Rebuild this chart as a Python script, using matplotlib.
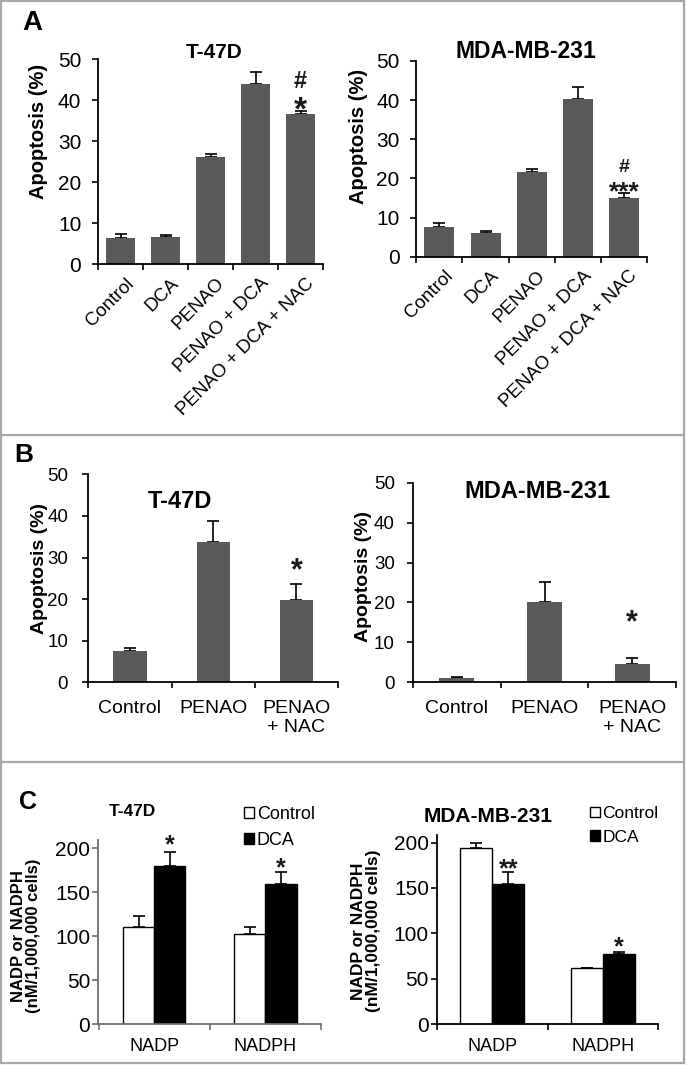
import matplotlib
matplotlib.use('Agg')
import matplotlib.pyplot as plt
import numpy as np
from matplotlib.lines import Line2D
import matplotlib.transforms as mtransforms

plt.rcParams['font.family'] = ['Liberation Sans', 'DejaVu Sans']

W, H = 686, 1065
fig = plt.figure(figsize=(W / 100, H / 100), dpi=100)


def fx(x):
    return x / W


def fy(y):
    return 1 - y / H


# ---------------- data ----------------
a_categories = ['Control', 'DCA', 'PENAO', 'PENAO + DCA', 'PENAO + DCA + NAC']
a_t47d_mean = [6.3, 6.6, 26.1, 44.0, 36.7]
a_t47d_err = [1.1, 0.6, 0.8, 2.9, 0.8]
a_mda_mean = [7.7, 6.0, 21.7, 40.4, 15.0]
a_mda_err = [1.0, 0.6, 0.6, 3.0, 1.2]

b_categories = ['Control', 'PENAO', 'PENAO\n+ NAC']
b_t47d_mean = [7.6, 33.8, 19.8]
b_t47d_err = [0.6, 5.0, 3.8]
b_mda_mean = [1.0, 20.2, 4.5]
b_mda_err = [0.25, 5.0, 1.7]

c_groups = ['NADP', 'NADPH']
c_series = ['Control', 'DCA']
c_t47d_control = [110.4, 102.5]
c_t47d_control_err = [12.6, 8.3]
c_t47d_dca = [180.3, 159.8]
c_t47d_dca_err = [15.5, 13.6]
c_mda_control = [193.8, 61.4]
c_mda_control_err = [5.5, 0.0]
c_mda_dca = [154.4, 77.2]
c_mda_dca_err = [13.6, 1.8]

# significance marks: (x position, y centre, text)
a_t47d_marks = [(4, 45.0, '#'), (4, 40.1, '*')]
a_mda_marks = [(4, 23.4, '#'), (4, 18.6, '***')]
b_t47d_marks = [(2, 29.0, '*')]
b_mda_marks = [(2, 17.3, '*')]
c_t47d_marks = [(0.14, 211.4, '*'), (1.14, 185.9, '*')]
c_mda_marks = [(0.145, 179.0, '**'), (1.145, 92.7, '*')]

BAR_GRAY = '#5a5a5a'


def make_ax(x0, x1, ytop, ybot):
    return fig.add_axes([fx(x0), fy(ybot), (x1 - x0) / W, (ybot - ytop) / H])


def style_axes(ax, n, ylim, yticks, ytick_fs, ypad, tick_len, spine_color='black'):
    ax.set_xlim(-0.5, n - 0.5)
    ax.set_ylim(*ylim)
    for s in ('top', 'right'):
        ax.spines[s].set_visible(False)
    for s in ('left', 'bottom'):
        ax.spines[s].set_color(spine_color)
        ax.spines[s].set_linewidth(1.3)
    ax.set_yticks(yticks)
    ax.set_yticklabels([str(v) for v in yticks])
    ax.tick_params(axis='y', direction='out', length=tick_len, width=1.2,
                   labelsize=ytick_fs, pad=ypad, color=spine_color)
    ax.set_xticks(np.arange(n + 1) - 0.5)
    ax.set_xticklabels([])
    ax.tick_params(axis='x', which='major', direction='out', length=tick_len,
                   width=1.2, color=spine_color)
    ax.set_facecolor('none')


def add_marks(ax, marks, sizes):
    for (x, y, s), fs in zip(marks, sizes):
        off = -0.58 * fs if '*' in s else -0.36 * fs
        ax.annotate(s, (x, y), xytext=(0, off), textcoords='offset points',
                    ha='center', va='baseline', fontsize=fs, fontweight='bold',
                    color='#1a1a1a', annotation_clip=False)


def apoptosis_bars(ax, cats, mean, err, width):
    x = np.arange(len(cats))
    ax.bar(x, mean, width=width, color=BAR_GRAY, zorder=2)
    ax.errorbar(x, mean, yerr=[np.zeros(len(err)), err], fmt='none',
                ecolor='black', elinewidth=1.2, capsize=4.5, capthick=1.2, zorder=1)


# ---------------- panel A ----------------
axA1 = make_ax(98, 323, 59.3, 264.3)
axA2 = make_ax(416.3, 647, 61, 256.7)
for ax, mean, err, marks, msizes in (
        (axA1, a_t47d_mean, a_t47d_err, a_t47d_marks, [17, 24]),
        (axA2, a_mda_mean, a_mda_err, a_mda_marks, [14, 19])):
    apoptosis_bars(ax, a_categories, mean, err, 0.65)
    style_axes(ax, len(a_categories), (0, 50), [0, 10, 20, 30, 40, 50], 15, 8, 4)
    ax.set_xticks(np.arange(len(a_categories)), minor=True)
    ax.set_xticklabels(a_categories, minor=True, rotation=45, ha='right',
                       va='top', rotation_mode='anchor', fontsize=13.5)
    ax.tick_params(axis='x', which='minor', length=0, pad=7.5)
    offset = mtransforms.ScaledTranslation(5 / 100, 0, fig.dpi_scale_trans)
    for lab in ax.get_xticklabels(minor=True):
        lab.set_transform(lab.get_transform() + offset)
    add_marks(ax, marks, msizes)

fig.text(fx(32), fy(23), 'A', fontsize=20, fontweight='bold', ha='center', va='center')
fig.text(fx(214), fy(52), 'T-47D', fontsize=15, fontweight='bold', ha='center', va='center')
fig.text(fx(526), fy(51), 'MDA-MB-231', fontsize=16.5, fontweight='bold', ha='center', va='center')
fig.text(fx(38), fy(131), 'Apoptosis (%)', fontsize=14.5, fontweight='bold',
         rotation=90, ha='center', va='center')
fig.text(fx(358), fy(136), 'Apoptosis (%)', fontsize=14.5, fontweight='bold',
         rotation=90, ha='center', va='center')

# ---------------- panel B ----------------
axB1 = make_ax(88.3, 338, 474.3, 682.3)
axB2 = make_ax(413, 676, 482.7, 682.3)
for ax, mean, err, marks, ypad in (
        (axB1, b_t47d_mean, b_t47d_err, b_t47d_marks, 10),
        (axB2, b_mda_mean, b_mda_err, b_mda_marks, 8.5)):
    apoptosis_bars(ax, b_categories, mean, err, 0.4)
    style_axes(ax, len(b_categories), (0, 50), [0, 10, 20, 30, 40, 50], 13.5, ypad, 4.5)
    ax.set_xticks(np.arange(len(b_categories)), minor=True)
    ax.set_xticklabels(b_categories, minor=True, fontsize=14, ha='center',
                       va='top', linespacing=1.15)
    ax.tick_params(axis='x', which='minor', length=0, pad=13)
    add_marks(ax, marks, [22])

fig.text(fx(24), fy(455), 'B', fontsize=19, fontweight='bold', ha='center', va='center')
fig.text(fx(180), fy(501), 'T-47D', fontsize=17, fontweight='bold', ha='center', va='center')
fig.text(fx(537), fy(491), 'MDA-MB-231', fontsize=17, fontweight='bold', ha='center', va='center')
fig.text(fx(39), fy(568), 'Apoptosis (%)', fontsize=14, fontweight='bold',
         rotation=90, ha='center', va='center')
fig.text(fx(364), fy(576), 'Apoptosis (%)', fontsize=14, fontweight='bold',
         rotation=90, ha='center', va='center')

# ---------------- panel C ----------------
axC1 = make_ax(98.5, 321, 839.5, 1024)
axC2 = make_ax(437.3, 658, 834.9, 1024)
for ax, ctl, ctl_e, dca, dca_e, marks, ylim_top, scol, leg_xy, leg_fs, bw in (
        (axC1, c_t47d_control, c_t47d_control_err, c_t47d_dca, c_t47d_dca_err,
         c_t47d_marks, 210, '#6e6e6e', (244, 806), 13, 0.28),
        (axC2, c_mda_control, c_mda_control_err, c_mda_dca, c_mda_dca_err,
         c_mda_marks, 208.5, 'black', (590, 806), 12.5, 0.29)):
    x = np.arange(len(c_groups))
    b1 = ax.bar(x - bw / 2, ctl, width=bw, color='white', edgecolor='black',
                linewidth=1.0, zorder=2, label=c_series[0])
    b2 = ax.bar(x + bw / 2, dca, width=bw, color='black', edgecolor='black',
                linewidth=1.0, zorder=2, label=c_series[1])
    ax.errorbar(x - bw / 2, ctl, yerr=[np.zeros(len(ctl_e)), ctl_e], fmt='none',
                ecolor='black', elinewidth=1.2, capsize=4.5, capthick=1.2, zorder=1)
    ax.errorbar(x + bw / 2, dca, yerr=[np.zeros(len(dca_e)), dca_e], fmt='none',
                ecolor='black', elinewidth=1.2, capsize=4.5, capthick=1.2, zorder=1)
    style_axes(ax, len(c_groups), (0, ylim_top), [0, 50, 100, 150, 200], 15, 2, 4,
               spine_color=scol)
    ax.set_xticks(x, minor=True)
    ax.set_xticklabels(c_groups, minor=True, fontsize=13)
    ax.tick_params(axis='x', which='minor', length=0, pad=10)
    add_marks(ax, marks, [18] * len(marks))
    ax.legend(handles=[b1, b2], labels=c_series, loc='upper left',
              bbox_to_anchor=(fx(leg_xy[0]), fy(leg_xy[1])),
              bbox_transform=fig.transFigure, frameon=False, fontsize=leg_fs,
              handlelength=0.55, handleheight=0.55, handletextpad=0.15,
              labelspacing=0.5, borderpad=0, borderaxespad=0)

fig.text(fx(28), fy(802), 'C', fontsize=18, fontweight='bold', ha='center', va='center')
fig.text(fx(132), fy(811), 'T-47D', fontsize=12.5, fontweight='bold', ha='center', va='center')
fig.text(fx(488), fy(816), 'MDA-MB-231', fontsize=15, fontweight='bold', ha='center', va='center')
fig.text(fx(26), fy(936), 'NADP or NADPH\n(nM/1,000,000 cells)', fontsize=12,
         fontweight='bold', rotation=90, ha='center', va='center', linespacing=0.95,
         multialignment='center')
fig.text(fx(366), fy(931), 'NADP or NADPH\n(nM/1,000,000 cells)', fontsize=12.5,
         fontweight='bold', rotation=90, ha='center', va='center', linespacing=0.95,
         multialignment='center')

# ---------------- panel borders ----------------
BORDER = '#a8a8a8'
for (xa, ya, xb, yb) in ((1, 1, 684, 1), (1, 1063, 684, 1063), (1, 1, 1, 1063),
                         (684, 1, 684, 1063), (1, 435, 684, 435), (1, 762, 684, 762)):
    fig.add_artist(Line2D([fx(xa), fx(xb)], [fy(ya), fy(yb)], color=BORDER,
                          lw=1.6, transform=fig.transFigure))

fig.savefig('out.png', dpi=100)
